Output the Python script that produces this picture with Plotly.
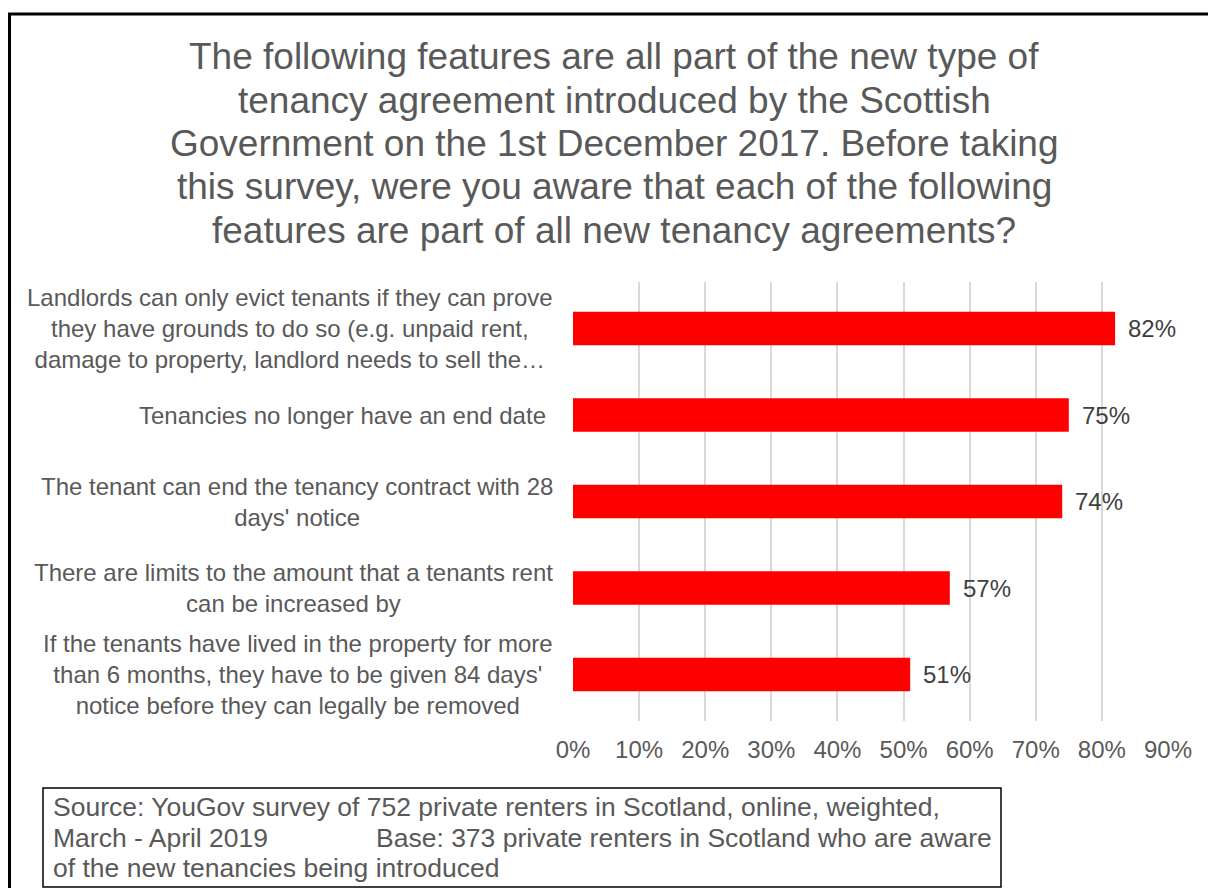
import plotly.graph_objects as go

# Survey features (top to bottom) and share of renters aware of each
features = [
    "Landlords can only evict tenants if they can prove<br>they have grounds to do so (e.g. unpaid rent,<br>damage to property, landlord needs to sell the…",
    "Tenancies no longer have an end date\u00a0",
    "The tenant can end the tenancy contract with 28<br>days' notice",
    "There are limits to the amount that a tenants rent<br>can be increased by",
    "If the tenants have lived in the property for more<br>than 6 months, they have to be given 84 days'<br>notice before they can legally be removed",
]
aware_pct = [82, 75, 74, 57, 51]
tick_values = [0, 10, 20, 30, 40, 50, 60, 70, 80, 90]
tick_labels = ["0%", "10%", "20%", "30%", "40%", "50%", "60%", "70%", "80%", "90%"]

title_lines = [
    "The following features are all part of the new type of",
    "tenancy agreement introduced by the Scottish",
    "Government on the 1st December 2017. Before taking",
    "this survey, were you aware that each of the following",
    "features are part of all new tenancy agreements?",
]
source_line1 = "Source: YouGov survey of 752 private renters in Scotland, online, weighted,"
source_line2a = "March - April 2019"
source_line2b = "Base: 373 private renters in Scotland who are aware"
source_line3 = "of the new tenancies being introduced"

W, H = 1208, 888
ML, MR, MT, MB = 573, 40, 282, 167
PW, PH = W - ML - MR, H - MT - MB

FONT = "Liberation Sans, Arial, sans-serif"
GREY = "#595959"


def px_x(px):
    return (px - ML) / PW


def px_y(py):
    return (H - MB - py) / PH


fig = go.Figure(
    go.Bar(
        x=aware_pct,
        y=features,
        orientation="h",
        marker=dict(color="#ff0000", line=dict(width=0)),
        hoverinfo="skip",
    )
)

annotations = []

# Title, one line per annotation for tighter line spacing
for i, line in enumerate(title_lines):
    annotations.append(dict(
        text=line, xref="paper", yref="paper",
        x=px_x(614), y=px_y(57 + i * 43.3),
        xanchor="center", yanchor="middle", showarrow=False,
        font=dict(family=FONT, size=37, color=GREY),
    ))

# Category labels: right-aligned block with centred lines
for feat in features:
    annotations.append(dict(
        text=feat, xref="paper", yref="y",
        x=px_x(555), y=feat,
        xanchor="right", yanchor="middle", align="center", showarrow=False,
        font=dict(family=FONT, size=24, color=GREY),
    ))

# Value labels just past the end of each bar
for feat, v in zip(features, aware_pct):
    annotations.append(dict(
        text=f"{v}%", xref="x", yref="y",
        x=v, y=feat, xanchor="left", yanchor="middle", xshift=11,
        showarrow=False,
        font=dict(family=FONT, size=24, color="#404040"),
    ))

# Source note
src_font = dict(family=FONT, size=26.5, color=GREY)
for text, xpx, ypx in [
    (source_line1, 51, 807),
    (source_line2a, 51, 838),
    (source_line2b, 374, 838),
    (source_line3, 51, 868),
]:
    annotations.append(dict(
        text=text, xref="paper", yref="paper",
        x=px_x(xpx), y=px_y(ypx), xanchor="left", yanchor="middle",
        showarrow=False, font=src_font,
    ))

shapes = [
    # outer frame (right and bottom edges fall outside the page)
    dict(type="rect", xref="paper", yref="paper",
         x0=px_x(9.5), x1=px_x(1300), y0=px_y(14), y1=px_y(960),
         line=dict(color="#000000", width=3), fillcolor="rgba(0,0,0,0)", layer="above"),
    # source box
    dict(type="rect", xref="paper", yref="paper",
         x0=px_x(43), x1=px_x(1001), y0=px_y(788), y1=px_y(887),
         line=dict(color="#000000", width=1.5), fillcolor="rgba(0,0,0,0)", layer="above"),
]

fig.update_layout(
    width=W, height=H,
    margin=dict(l=ML, r=MR, t=MT, b=MB),
    paper_bgcolor="white", plot_bgcolor="white",
    bargap=0.61,
    showlegend=False,
    annotations=annotations,
    shapes=shapes,
    font=dict(family=FONT, color=GREY),
)
fig.update_xaxes(
    range=[0, 90], tickvals=tick_values, ticktext=tick_labels,
    showgrid=True, gridcolor="#d9d9d9", gridwidth=1.5,
    zeroline=False, showline=False, ticks="",
    tickfont=dict(family=FONT, size=24, color=GREY),
    ticklabelstandoff=12,
    fixedrange=True,
)
fig.update_yaxes(
    categoryorder="array", categoryarray=features, autorange="reversed",
    showticklabels=False, showgrid=False, zeroline=False, showline=False,
    ticks="", fixedrange=True,
)

fig.write_html("out.html")
